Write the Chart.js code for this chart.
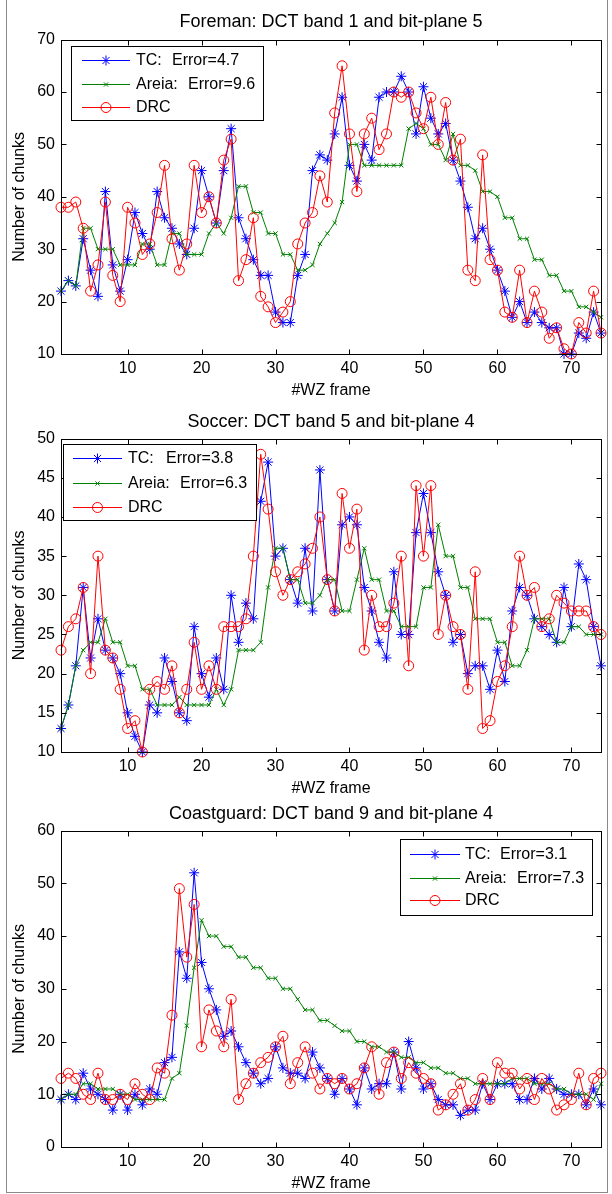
<!DOCTYPE html>
<html>
<head>
<meta charset="utf-8">
<script src="https://cdn.jsdelivr.net/npm/chart.js@4.4.1/dist/chart.umd.min.js"></script>
<style>
  body { margin: 0; background: #fff; }
  #fig { position: relative; width: 612px; height: 1194px; overflow: hidden; }
  #frame { position: absolute; left: 6px; top: -1px; width: 602px; height: 1194px; border: 1px solid #8a8a8a; box-sizing: border-box; }
  canvas { position: absolute; left: 0; }
</style>
</head>
<body>
<div id="fig">
  <div id="frame"></div>
  <canvas id="c1" width="612" height="400" style="top:0px"></canvas>
  <canvas id="c2" width="612" height="398" style="top:400px"></canvas>
  <canvas id="c3" width="612" height="395" style="top:798px"></canvas>
</div>
<script>
const frames = [1,2,3,4,5,6,7,8,9,10,11,12,13,14,15,16,17,18,19,20,21,22,23,24,25,26,27,28,29,30,31,32,33,34,35,36,37,
  38,39,40,41,42,43,44,45,46,47,48,49,50,51,52,53,54,55,56,57,58,59,60,61,62,63,64,65,66,67,68,69,70,71,72,73,74];
const xTicks = [10, 20, 30, 40, 50, 60, 70];

const seriesNames = ['TC', 'Areia', 'DRC'];
const titles = ['Foreman: DCT band 1 and bit-plane 5', 'Soccer: DCT band 5 and bit-plane 4', 'Coastguard: DCT band 9 and bit-plane 4'];
const errTC = ['4.7', '3.8', '3.1'];
const errAreia = ['9.6', '6.3', '7.3'];

// Foreman
const yTicks1 = [10, 20, 30, 40, 50, 60, 70];
const tc1 = [22,24,23,32,26,21,41,27,22,28, 37,33,30,41,36,34,31,29,34,45, 40,35,45,53,36,32,28,25,25,18,
  16,16,25,29,45,48,47,52,59,46, 43,50,47,59,60,60,63,60,52,61, 55,52,54,47,43,38,32,34,30,26,
  22,17,20,16,18,16,15,15,10,10, 14,13,18,14];
const areia1 = [22,24,23,34,34,30,30,30,27,27, 27,31,31,27,27,33,33,29,29,29, 33,35,33,36,42,42,37,37,33,33,
  29,29,26,26,27,31,33,35,39,50, 50,46,46,46,46,46,46,53,54,53, 50,50,47,52,46,46,45,41,41,40,
  36,36,32,32,28,28,25,25,22,22, 19,19,18,17];
const drc1 = [38,38,39,34,22,27,39,25,20,38, 35,29,31,37,46,32,26,31,46,37, 40,35,47,51,24,28,36,21,19,16,
  18,20,31,35,37,44,39,56,65,52, 41,52,55,49,52,60,59,60,56,53, 59,50,58,47,51,26,24,48,28,26,
  18,17,26,16,22,18,13,15,11,10, 16,14,22,14];

// Soccer
const yTicks2 = [10, 15, 20, 25, 30, 35, 40, 45, 50];
const tc2 = [13,16,21,31,22,27,23,22,20,15, 12,10,16,15,22,19,15,14,26,20, 17,22,18,30,24,29,27,42,47,35,
  36,32,29,36,28,46,32,28,39,40, 39,31,28,24,22,33,25,25,38,43, 38,33,30,24,25,20,21,21,18,23,
  19,28,31,30,27,26,25,24,31,26, 34,32,26,21];
const areia2 = [13,16,21,23,24,24,27,24,24,21, 21,18,18,16,16,16,17,16,16,16, 16,18,16,18,23,23,23,24,31,36,
  36,32,32,29,29,30,32,32,28,28, 32,36,32,32,28,28,26,26,26,31, 31,39,35,35,31,31,27,27,27,24,
  24,21,21,23,27,27,27,24,24,26, 26,25,25,25];
const drc2 = [23,26,27,31,20,35,23,22,18,13, 14,10,18,19,18,21,15,18,24,18, 21,18,26,26,26,27,35,48,41,33,
  30,32,33,34,36,40,32,28,43,36, 41,23,30,26,26,29,35,21,44,35, 44,25,30,26,25,18,33,13,14,19,
  21,26,35,30,31,26,27,30,29,28, 28,28,26,25];

// Coastguard
const yTicks3 = [0, 10, 20, 30, 40, 50, 60];
const tc3 = [9,10,9,14,11,10,9,7,10,7, 10,8,11,10,16,17,37,32,52,35, 30,26,21,22,19,16,14,12,13,19,
  15,14,14,13,18,15,13,10,13,11, 8,15,11,12,12,18,11,20,15,11, 12,9,8,8,6,7,7,12,9,12,
  12,12,9,9,13,11,13,11,10,10, 10,8,11,8];
const areia3 = [9,10,10,12,12,11,11,11,10,10, 9,9,9,9,9,13,14,23,34,43, 40,40,38,38,36,36,34,34,32,32,
  30,30,28,26,26,24,24,23,22,22, 20,20,19,19,18,18,17,17,16,16, 15,15,14,14,13,13,12,12,12,12,
  12,13,13,13,12,12,12,11,11,10, 10,10,9,12];
const drc3 = [13,14,13,10,9,14,9,9,10,9, 12,10,9,15,14,25,49,36,46,19, 26,22,19,28,9,12,14,16,17,19,
  21,12,16,19,14,11,13,12,13,11, 12,15,19,10,16,18,13,16,14,13, 12,7,8,10,12,7,9,13,9,16,
  14,14,11,13,9,13,11,7,8,9, 14,8,13,14];

const FONT = '"Liberation Sans", Arial, Helvetica, sans-serif';
Chart.defaults.font.family = FONT;
Chart.defaults.color = '#000';

// box round the axes with inward ticks on all four sides
const matlabAxes = {
  id: 'matlabAxes',
  afterDatasetsDraw(chart) {
    const { ctx, chartArea: a, scales: { x, y } } = chart;
    const L = Math.round(a.left) + 0.5, R = Math.round(a.right) + 0.5;
    const T = Math.round(a.top) + 0.5, B = Math.round(a.bottom) + 0.5;
    ctx.save();
    ctx.strokeStyle = '#000';
    ctx.lineWidth = 1;
    ctx.beginPath();
    x.ticks.forEach(t => {
      const px = Math.round(x.getPixelForValue(t.value)) + 0.5;
      ctx.moveTo(px, B); ctx.lineTo(px, B - 5);
      ctx.moveTo(px, T); ctx.lineTo(px, T + 5);
    });
    y.ticks.forEach(t => {
      const py = Math.round(y.getPixelForValue(t.value)) + 0.5;
      ctx.moveTo(L, py); ctx.lineTo(L + 5, py);
      ctx.moveTo(R, py); ctx.lineTo(R - 5, py);
    });
    ctx.stroke();
    ctx.strokeRect(L, T, R - L, B - T);
    ctx.restore();
  }
};

// matlab-like legend box inside the axes
const boxLegend = {
  id: 'boxLegend',
  afterDraw(chart, args, o) {
    const { ctx } = chart;
    ctx.save();
    ctx.fillStyle = '#fff';
    ctx.fillRect(o.x, o.y, o.w, o.h);
    ctx.strokeStyle = '#000';
    ctx.lineWidth = 1;
    ctx.strokeRect(o.x + 0.5, o.y + 0.5, o.w, o.h);
    ctx.font = '16px ' + FONT;
    ctx.textBaseline = 'middle';
    chart.data.datasets.forEach((ds, i) => {
      const ry = o.y + o.rows[i] + 0.5;
      ctx.strokeStyle = ds.borderColor;
      ctx.beginPath();
      ctx.moveTo(o.x + o.line[0], ry);
      ctx.lineTo(o.x + o.line[1], ry);
      ctx.stroke();
      ctx.fillStyle = 'rgba(0,0,0,0)';
      Chart.helpers.drawPoint(ctx, { pointStyle: ds.pointStyle, radius: ds.pointRadius, borderWidth: 1, rotation: 0 },
        o.x + (o.line[0] + o.line[1]) / 2, ry);
      ctx.fillStyle = '#000';
      ctx.fillText(o.texts[i][0], o.x + o.textX, ry);
      if (o.texts[i][1]) ctx.fillText(o.texts[i][1], o.x + o.errX[i], ry);
    });
    ctx.restore();
  }
};

function series(vals) {
  return vals.map((v, i) => ({ x: frames[i], y: v }));
}

function makeChart(id, p) {
  const datasets = [
    { label: seriesNames[0], data: series(p.tc), borderColor: '#0000ff', pointStyle: 'star', pointRadius: 5, order: 2 },
    { label: seriesNames[1], data: series(p.areia), borderColor: '#008000', pointStyle: 'crossRot', pointRadius: 3, order: 1 },
    { label: seriesNames[2], data: series(p.drc), borderColor: '#ff0000', pointStyle: 'circle', pointRadius: 5, order: 0 }
  ];
  datasets.forEach(d => {
    d.borderWidth = 1;
    d.pointBorderWidth = 1;
    d.pointBorderColor = d.borderColor;
    d.pointBackgroundColor = 'rgba(0,0,0,0)';
    d.backgroundColor = 'rgba(0,0,0,0)';
    d.tension = 0;
    d.fill = false;
    d.clip = false;
  });

  return new Chart(document.getElementById(id), {
    type: 'line',
    data: { datasets },
    plugins: [matlabAxes, boxLegend],
    options: {
      responsive: false,
      animation: false,
      devicePixelRatio: 1,
      layout: { padding: { left: 0, right: 11, top: 0, bottom: 0 } },
      plugins: {
        legend: { display: false },
        tooltip: { enabled: false },
        title: {
          display: true, text: p.title, fullSize: false,
          font: { size: 18, weight: 'normal' }, padding: p.titlePad, color: '#000'
        },
        boxLegend: p.legend
      },
      scales: {
        x: {
          type: 'linear', min: 1, max: 74,
          afterBuildTicks: s => { s.ticks = xTicks.map(v => ({ value: v })); },
          afterFit: s => { s.height = 46; },
          grid: { display: false, drawTicks: false },
          border: { display: false },
          ticks: { font: { size: 16 }, padding: 5, maxRotation: 0, callback: v => v },
          title: { display: true, text: '#WZ frame', font: { size: 16 }, padding: { top: 0, bottom: 0 } }
        },
        y: {
          type: 'linear', min: p.yMin, max: p.yMax,
          afterBuildTicks: s => { s.ticks = p.yTicks.map(v => ({ value: v })); },
          afterFit: s => { s.width = 61; },
          grid: { display: false, drawTicks: false },
          border: { display: false },
          ticks: { font: { size: 16 }, padding: 6, callback: v => v },
          title: { display: true, text: 'Number of chunks', font: { size: 16 }, padding: { top: 10, bottom: 0 } }
        }
      }
    }
  });
}

makeChart('c1', {
  title: titles[0], titlePad: { top: 11, bottom: 7 },
  tc: tc1, areia: areia1, drc: drc1, yMin: 10, yMax: 70, yTicks: yTicks1,
  legend: { x: 71, y: 46, w: 192, h: 74, rows: [14, 38, 61], line: [11, 59], textX: 65, errX: [101, 117, 0],
    texts: [[seriesNames[0] + ':', 'Error=' + errTC[0]], [seriesNames[1] + ':', 'Error=' + errAreia[0]], [seriesNames[2], '']] }
});

makeChart('c2', {
  title: titles[1], titlePad: { top: 11, bottom: 6 },
  tc: tc2, areia: areia2, drc: drc2, yMin: 10, yMax: 50, yTicks: yTicks2,
  legend: { x: 63, y: 44, w: 193, h: 76, rows: [14, 39, 63], line: [10, 59], textX: 65, errX: [103, 117, 0],
    texts: [[seriesNames[0] + ':', 'Error=' + errTC[1]], [seriesNames[1] + ':', 'Error=' + errAreia[1]], [seriesNames[2], '']] }
});

makeChart('c3', {
  title: titles[2], titlePad: { top: 5, bottom: 6 },
  tc: tc3, areia: areia3, drc: drc3, yMin: 0, yMax: 60, yTicks: yTicks3,
  legend: { x: 400, y: 41, w: 192, h: 76, rows: [15, 39, 61], line: [10, 60], textX: 65, errX: [100, 117, 0],
    texts: [[seriesNames[0] + ':', 'Error=' + errTC[2]], [seriesNames[1] + ':', 'Error=' + errAreia[2]], [seriesNames[2], '']] }
});
</script>
</body>
</html>
